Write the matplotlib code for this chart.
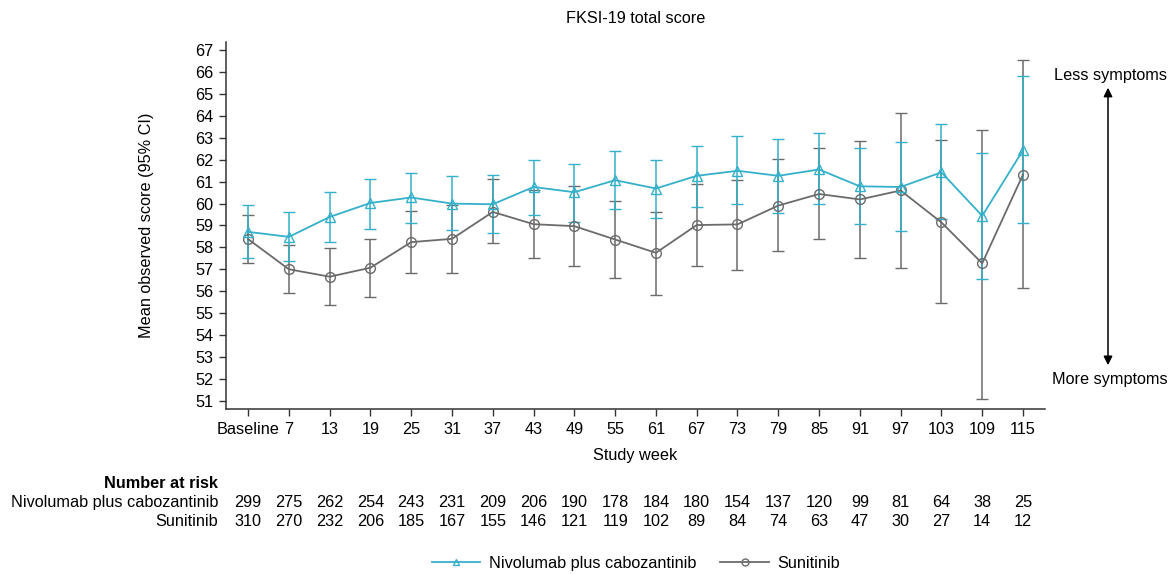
import numpy as np
import matplotlib
matplotlib.use("Agg")
import matplotlib.pyplot as plt
import matplotlib.transforms as mtransforms
from matplotlib.lines import Line2D

plt.rcParams['font.family'] = ['Liberation Sans', 'DejaVu Sans']

weeks = ["Baseline", "7", "13", "19", "25", "31", "37", "43", "49", "55",
         "61", "67", "73", "79", "85", "91", "97", "103", "109", "115"]

nivo_mean = [58.71, 58.48, 59.39, 60.03, 60.28, 60.00, 59.97, 60.76, 60.52, 61.07,
             60.69, 61.27, 61.50, 61.27, 61.56, 60.79, 60.76, 61.43, 59.44, 62.44]
nivo_upper = [59.94, 59.62, 60.52, 61.14, 61.40, 61.25, 61.30, 62.01, 61.83, 62.41,
              62.01, 62.62, 63.08, 62.97, 63.23, 62.54, 62.80, 63.62, 62.29, 65.84]
nivo_lower = [57.51, 57.37, 58.25, 58.85, 59.12, 58.79, 58.64, 59.50, 59.17, 59.75,
              59.32, 59.85, 60.00, 59.58, 59.99, 59.09, 58.73, 59.29, 56.54, 59.12]

suni_mean = [58.38, 57.00, 56.66, 57.07, 58.24, 58.39, 59.62, 59.06, 58.97, 58.36,
             57.75, 59.02, 59.05, 59.91, 60.44, 60.19, 60.60, 59.14, 57.27, 61.33]
suni_upper = [59.49, 58.12, 57.95, 58.38, 59.67, 59.94, 61.11, 60.60, 60.81, 60.11,
              59.61, 60.90, 61.08, 62.03, 62.54, 62.86, 64.14, 62.89, 63.35, 66.54]
suni_lower = [57.28, 55.90, 55.37, 55.74, 56.84, 56.84, 58.21, 57.51, 57.16, 56.58,
              55.82, 57.13, 56.98, 57.82, 58.39, 57.51, 57.07, 55.47, 51.08, 56.13]

nivo_risk = [299, 275, 262, 254, 243, 231, 209, 206, 190, 178,
             184, 180, 154, 137, 120, 99, 81, 64, 38, 25]
suni_risk = [310, 270, 232, 206, 185, 167, 155, 146, 121, 119,
             102, 89, 84, 74, 63, 47, 30, 27, 14, 12]

cyan = '#35b0ca'
gray = '#6b6b6b'
fs = 11.7

fig = plt.figure(figsize=(11.73, 5.74), dpi=100)
ax = fig.add_axes([0.1927, 0.2869, 0.6982, 0.6405])

x = np.arange(len(weeks))

for mean, lo, hi, col, mk in [(suni_mean, suni_lower, suni_upper, gray, 'o'),
                              (nivo_mean, nivo_lower, nivo_upper, cyan, '^')]:
    mean = np.array(mean)
    yerr = [mean - np.array(lo), np.array(hi) - mean]
    ax.errorbar(x, mean, yerr=yerr, color=col, ecolor=col, elinewidth=1.1,
                capsize=4.5, capthick=1.1, lw=1.3, marker=mk, markersize=7,
                markerfacecolor='none', markeredgecolor=col, markeredgewidth=1.0)

ax.set_xlim(-0.54, 19.54)
ax.set_ylim(50.6, 67.4)
ax.set_yticks(range(51, 68))
ax.set_xticks(x)
ax.set_xticklabels(weeks)
ax.tick_params(labelsize=fs, length=5, width=1, color='#333333', pad=4)
for s in ['top', 'right']:
    ax.spines[s].set_visible(False)
for s in ['left', 'bottom']:
    ax.spines[s].set_color('#333333')
    ax.spines[s].set_linewidth(1.1)

ax.set_ylabel("Mean observed score (95% CI)", fontsize=fs, labelpad=30)
ax.set_xlabel("Study week", fontsize=fs, labelpad=8)
fig.text(0.5418, 0.9686, "FKSI-19 total score", ha='center', va='center', fontsize=fs)

# number at risk table
trans = mtransforms.blended_transform_factory(ax.transData, fig.transFigure)
fig.text(0.1858, 0.1585, "Number at risk", ha='right', va='center', fontsize=fs, fontweight='bold')
fig.text(0.1858, 0.1237, "Nivolumab plus cabozantinib", ha='right', va='center', fontsize=fs)
fig.text(0.1858, 0.0906, "Sunitinib", ha='right', va='center', fontsize=fs)
for i in range(len(weeks)):
    ax.text(i, 0.1237, str(nivo_risk[i]), transform=trans, ha='center', va='center', fontsize=fs)
    ax.text(i, 0.0906, str(suni_risk[i]), transform=trans, ha='center', va='center', fontsize=fs)

# symptom direction arrow
ax.annotate('', xy=(0.9446, 0.852), xytext=(0.9446, 0.359), xycoords='figure fraction',
            textcoords='figure fraction',
            arrowprops=dict(arrowstyle='<|-|>', color='black', lw=1.1, mutation_scale=13))
fig.text(0.9463, 0.8693, "Less symptoms", ha='center', va='center', fontsize=fs)
fig.text(0.9463, 0.338, "More symptoms", ha='center', va='center', fontsize=fs)

handles = [Line2D([], [], color=cyan, lw=1.3, marker='^', markersize=5,
                  markerfacecolor='none', markeredgecolor=cyan),
           Line2D([], [], color=gray, lw=1.3, marker='o', markersize=5,
                  markerfacecolor='none', markeredgecolor=gray)]
fig.legend(handles, ["Nivolumab plus cabozantinib", "Sunitinib"], loc='center',
           bbox_to_anchor=(0.542, 0.019), ncol=2, frameon=False, fontsize=fs,
           handlelength=3.0, columnspacing=1.5, handletextpad=0.5)

fig.savefig("out.png", dpi=100)
